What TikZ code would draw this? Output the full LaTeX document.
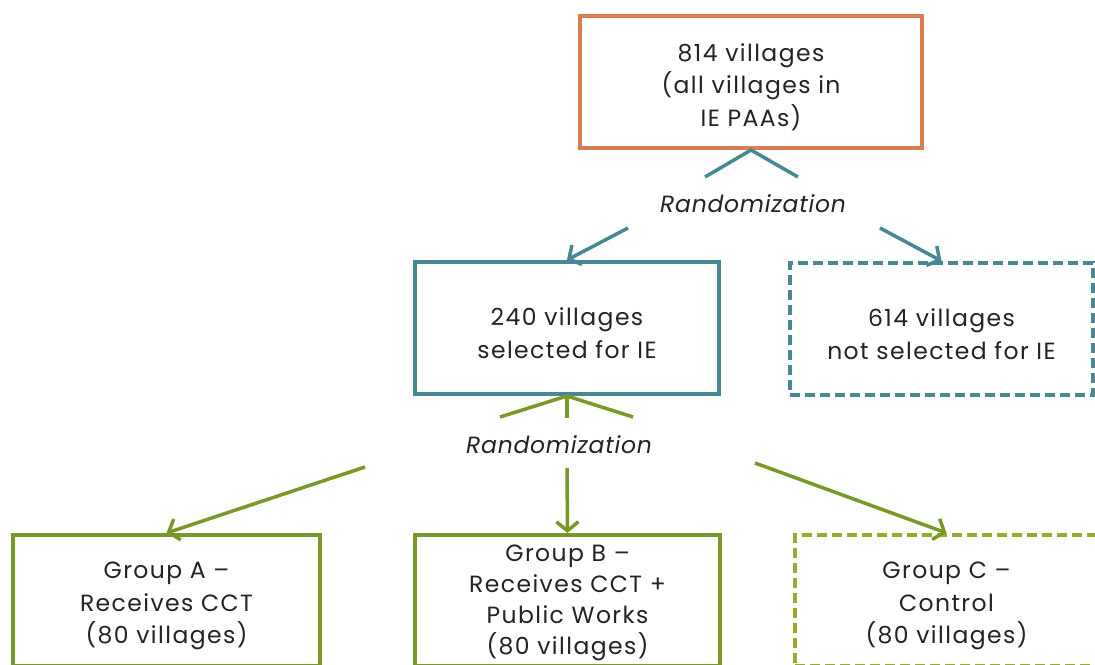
\documentclass[tikz,border=0pt]{standalone}
\usepackage{fontspec}
\setmainfont{Poppins}[LetterSpace=6]
\newfontfamily\randfont{Poppins}[LetterSpace=3]
\usetikzlibrary{arrows.meta}
\definecolor{orangeB}{RGB}{214,126,80}
\definecolor{tealB}{RGB}{72,136,146}
\definecolor{greenB}{RGB}{122,152,42}
\definecolor{greenC}{RGB}{150,172,48}
\definecolor{txt}{RGB}{35,35,35}
\newcommand{\dnstrut}{\rule{0pt}{28pt}}
\newcommand{\smstrut}{\rule{0pt}{21pt}}
\tikzset{
  box/.style={draw, line width=4pt, rectangle, align=center, inner sep=0pt, text=txt,
    font=\fontsize{23.5}{32.5}\selectfont},
  dashbox/.style={box, dash pattern=on 10pt off 5pt},
  conn/.style={line width=3.5pt},
  arr/.style={conn, -{Straight Barb[length=9pt,width=22pt,line width=3.5pt]}},
  lab/.style={text=txt, font=\randfont\fontsize{23.5}{26}\selectfont\itshape, inner sep=0pt}
}
\begin{document}
\begin{tikzpicture}[x=1pt,y=-1pt]
\useasboundingbox (0,0) rectangle (1095,664);
\clip (0,0) rectangle (1095,664);
\fill[white] (0,0) rectangle (1095,664);

\node[box, draw=orangeB, minimum width=342pt, minimum height=132pt] (top) at (751,82)
  {\dnstrut 814 villages\\(all villages in\\IE PAAs)};
\node[box, draw=tealB, minimum width=304pt, minimum height=132pt] (sel) at (567,328)
  {\dnstrut 240 villages\\selected for IE};
\node[dashbox, draw=tealB, minimum width=303pt, minimum height=132pt] (nsel) at (941.5,329)
  {\dnstrut 614 villages\\not selected for IE};
\node[box, draw=greenB, minimum width=307pt, minimum height=131pt] (ga) at (166.5,600.5)
  {\dnstrut Group A --\\Receives CCT\\(80 villages)};
\node[box, draw=greenB, minimum width=305pt, minimum height=131pt,
  font=\fontsize{23.5}{31}\selectfont] (gb) at (567.5,600.5)
  {\smstrut Group B --\\Receives CCT +\\Public Works\\(80 villages)};
\node[dashbox, draw=greenC, minimum width=303pt, minimum height=131pt] (gc) at (946.5,600.5)
  {\dnstrut Group C --\\Control\\(80 villages)};

\node[lab] (r1) at (753,204) {Randomization};
\node[lab] (r2) at (559,445) {Randomization};

% upper fan
\coordinate (u1) at (705,177);
\coordinate (u2) at (798,177);
\coordinate (ua) at (628,228);
\coordinate (ub) at (880,228);
\draw[conn, tealB] (u1) -- (top.south) -- (u2);
\draw[arr, tealB] (ua) -- (sel.north);
\draw[arr, tealB] (ub) -- (nsel.north);

% lower fan
\coordinate (l1) at (500,417);
\coordinate (l2) at (633,417);
\coordinate (l3) at (567,418);
\coordinate (la) at (365,467);
\coordinate (lb) at (567,468);
\coordinate (lc) at (755,463);
\draw[conn, greenB] (l1) -- (sel.south) -- (l2);
\draw[conn, greenB] (sel.south) -- (l3);
\draw[arr, greenB] (la) -- (ga.north);
\draw[arr, greenB] (lb) -- (gb.north);
\draw[arr, greenB] (lc) -- (gc.north);
\end{tikzpicture}
\end{document}
